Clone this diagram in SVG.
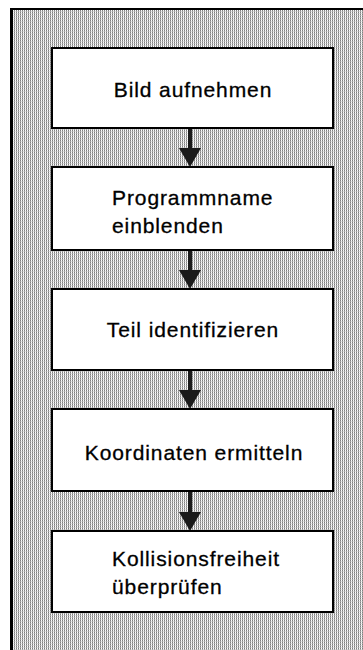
<svg xmlns="http://www.w3.org/2000/svg" width="363" height="650" viewBox="0 0 363 650">
  <style>
    .box { fill: #ffffff; stroke: #000000; stroke-width: 2; }
    .label { font-family: "Liberation Sans", Arial, sans-serif; font-size: 21px; letter-spacing: 0.9px; fill: #000000; stroke: #000000; stroke-width: 0.3px; }
    .mid { text-anchor: middle; }
    .shaft { stroke: #1a1a1a; stroke-width: 4; }
    .head { fill: #1a1a1a; }
  </style>
  <defs>
    <!-- fine halftone screen of the panel -->
    <pattern id="screen" x="0" y="0" width="2" height="2" patternUnits="userSpaceOnUse">
      <rect width="2" height="2" fill="#ffffff"/>
      <rect x="0" y="0" width="1" height="1" fill="#808080"/>
      <rect x="0" y="1" width="1" height="1" fill="#a8a8a8"/>
      <rect x="1" y="1" width="1" height="1" fill="#e0e0e0"/>
    </pattern>
  </defs>

  <rect width="363" height="650" fill="#ffffff"/>

  <!-- panel frame -->
  <rect x="12" y="9" width="360" height="660" fill="url(#screen)"/>
  <line x1="10" y1="9" x2="363" y2="9" stroke="#000" stroke-width="2"/>
  <line x1="11.5" y1="8" x2="11.5" y2="650" stroke="#000" stroke-width="3"/>

  <!-- connectors -->
  <g id="connectors">
    <line class="shaft" x1="190" y1="129" x2="190" y2="150"/>
    <polygon class="head" points="179,148 201,148 190,167"/>
    <line class="shaft" x1="190" y1="251" x2="190" y2="272"/>
    <polygon class="head" points="179,270 201,270 190,289"/>
    <line class="shaft" x1="190" y1="371" x2="190" y2="392"/>
    <polygon class="head" points="179,390 201,390 190,409"/>
    <line class="shaft" x1="190" y1="492" x2="190" y2="514"/>
    <polygon class="head" points="179,512 201,512 190,531"/>
  </g>

  <g id="bild-aufnehmen">
    <rect class="box" x="52" y="48" width="281" height="80"/>
    <text class="label mid" x="193" y="97">Bild aufnehmen</text>
  </g>

  <g id="programmname-einblenden">
    <rect class="box" x="52" y="167" width="281" height="83"/>
    <text class="label" x="112" y="205">Programmname</text>
    <text class="label" x="112" y="233">einblenden</text>
  </g>

  <g id="teil-identifizieren">
    <rect class="box" x="52" y="289" width="281" height="81"/>
    <text class="label mid" x="193" y="337">Teil identifizieren</text>
  </g>

  <g id="koordinaten-ermitteln">
    <rect class="box" x="52" y="409" width="281" height="82"/>
    <text class="label mid" x="194" y="460">Koordinaten ermitteln</text>
  </g>

  <g id="kollisionsfreiheit">
    <rect class="box" x="52" y="531" width="281" height="81"/>
    <text class="label" x="112" y="566">Kollisionsfreiheit</text>
    <text class="label" x="112" y="594">überprüfen</text>
  </g>
</svg>
